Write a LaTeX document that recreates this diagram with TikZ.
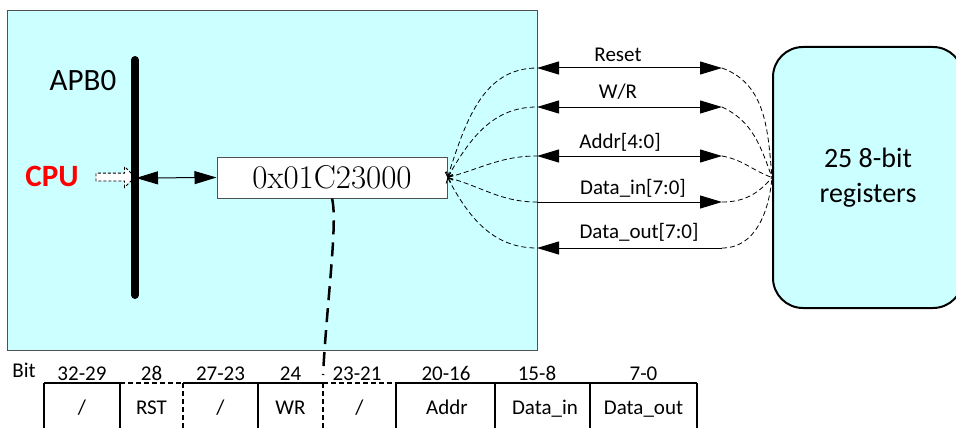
\documentclass[tikz,border=0pt]{standalone}
\usepackage{fontspec}
\newfontfamily\calibri{Carlito}
\usetikzlibrary{arrows.meta, shapes.arrows, positioning}
\definecolor{cyan1}{RGB}{204,255,255}
\definecolor{gray1}{RGB}{80,80,80}
\definecolor{red1}{RGB}{255,0,0}

\tikzstyle{panel} = [rectangle, draw=gray1, fill=cyan1, line width=1pt, anchor=north west, minimum width=530pt, minimum height=340pt]
\tikzstyle{regblock} = [rectangle, draw=black, fill=cyan1, line width=2pt, rounded corners=30pt, align=center, minimum width=190pt, minimum height=261pt, font=\calibri\fontsize{28}{35}\selectfont]
\tikzstyle{addrblock} = [rectangle, draw=gray1, fill=white, line width=1pt, minimum width=230pt, minimum height=41pt, font=\fontsize{33}{33}\selectfont]
\tikzstyle{sig} = [inner sep=0pt, anchor=base, font=\calibri\fontsize{21}{21}\selectfont]
\tikzstyle{big} = [inner sep=0pt, anchor=base, font=\calibri\fontsize{31}{31}\selectfont]
\tikzstyle{wire} = [line width=1pt]
\tikzstyle{fan} = [line width=0.8pt, dash pattern=on 5pt off 3pt]
\tikzstyle{bus} = [line width=8pt, line cap=round]
\tikzstyle{tabline} = [line width=2.5pt]
\tikzstyle{tabdash} = [line width=2.5pt, dash pattern=on 5pt off 3pt]

\begin{document}
\begin{tikzpicture}[x=1pt, y=1pt, >={Triangle[length=22pt, width=13pt]}]
	\useasboundingbox (0,0) rectangle (956,-428);
	% Blocks
	\node [panel] (apb) at (7,-10) {};
	\node [addrblock] (addr) at (332,-177.5) {0x01C23000};
	\node [regblock] (regs) at (868,-177.5) {25 8-bit\\registers};
	\node [big] (apbname) at (83,-91) {APB0};
	\node [big, text=red1, font=\calibri\bfseries\fontsize{31}{31}\selectfont] (cpu) at (52,-186) {CPU};
	\node [single arrow, draw, fill=white, line width=0.8pt, dash pattern=on 3pt off 2pt, inner sep=3.5pt, minimum height=39pt, single arrow head extend=6.5pt] (cpuarrow) at (113.5,-177) {};

	% APB0 bus
	\coordinate (bustop) at (135,-60);
	\coordinate (busbot) at (135,-295);
	\coordinate (busmid) at (136,-178);
	\draw [bus] (bustop) to (busbot);
	\draw [wire, <->] (busmid) to (addr.west);

	% Signals
	\coordinate (rstL) at (537,-68);  \coordinate (rstR) at (722,-68);
	\coordinate (wrL) at (537,-107);  \coordinate (wrR) at (722,-107);
	\coordinate (adrL) at (537,-156); \coordinate (adrR) at (722,-156);
	\coordinate (dinL) at (537,-202); \coordinate (dinR) at (722,-202);
	\coordinate (doutL) at (537,-248); \coordinate (doutR) at (722,-248);

	\draw [wire, <->] (rstL) to (rstR);
	\draw [wire, <->] (wrL) to (wrR);
	\draw [wire, <->] (adrL) to (adrR);
	\draw [wire, ->] (dinL) to (dinR);
	\draw [wire, <-] (doutL) to (doutR);

	\node [sig] (rstname) at (618,-62) {Reset};
	\node [sig] (wrname) at (618,-99) {W/R};
	\node [sig] (adrname) at (620,-148) {Addr[4:0]};
	\node [sig] (dinname) at (633,-194) {Data\_in[7:0]};
	\node [sig] (doutname) at (639,-238) {Data\_out[7:0]};

	\draw [fan, {Straight Barb[length=4pt, width=8pt]}-] (addr.east) to [out=72, in=180] (rstL);
	\draw [fan, {Straight Barb[length=4pt, width=8pt]}-] (addr.east) to [out=60, in=180] (wrL);
	\draw [fan, {Straight Barb[length=4pt, width=8pt]}-] (addr.east) to [out=15, in=180] (adrL);
	\draw [fan, {Straight Barb[length=4pt, width=8pt]}-] (addr.east) to [out=-15, in=180] (dinL);
	\draw [fan, {Straight Barb[length=4pt, width=8pt]}-] (addr.east) to [out=-62, in=180] (doutL);

	\draw [fan] (rstR) to [out=-20, in=95] (regs.west);
	\draw [fan] (wrR) to [out=-25, in=110] (regs.west);
	\draw [fan] (adrR) to [out=-10, in=160] (regs.west);
	\draw [fan] (dinR) to [out=0, in=-130] (regs.west);
	\draw [fan] (doutR) to [out=0, in=-95] (regs.west);

	% Register bit map
	\coordinate (tabjoin) at (323,-375);
	\draw [line width=2.5pt, dash pattern=on 14pt off 8pt] (addr.south) .. controls (338,-222) and (327,-300) .. (tabjoin);

	\draw [tabline] (44,-383) -- (120,-383);
	\draw [tabdash] (120,-383) -- (183,-383);
	\draw [tabline] (183,-383) -- (323,-383);
	\draw [tabdash] (323,-383) -- (396,-383);
	\draw [tabline] (396,-383) -- (697,-383);
	\foreach \x in {44,120,258,396,495,590,697}
		\draw [tabline] (\x,-383) -- (\x,-440);
	\foreach \x in {183,323}
		\draw [tabdash] (\x,-383) -- (\x,-440);

	\node [sig] (bitname) at (24,-377) {Bit};
	\foreach \x/\t [count=\i] in {82/32-29, 151.5/28, 220.5/27-23, 290.5/24, 357/23-21, 446/20-16, 537/15-8, 643.5/7-0}
		\node [sig] (bit\i) at (\x,-380) {\t};
	\foreach \x/\t [count=\i] in {82/{/}, 151.5/RST, 220.5/{/}, 290.5/WR, 359.5/{/}, 447/Addr, 545/Data\_in, 643.5/Data\_out}
		\node [sig] (cell\i) at (\x,-414) {\t};
\end{tikzpicture}
\end{document}
